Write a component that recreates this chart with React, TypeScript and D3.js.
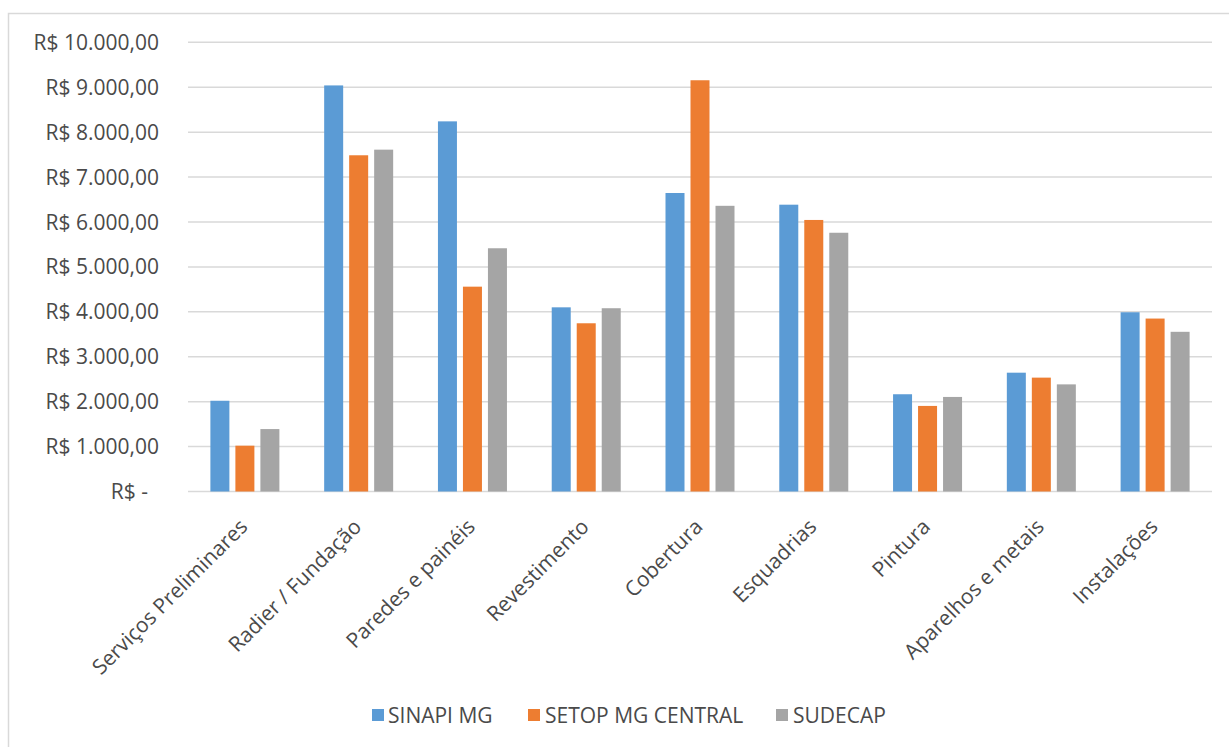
import React from "react";
import * as d3 from "d3";

const categories = [
  "Serviços Preliminares",
  "Radier / Fundação",
  "Paredes e painéis",
  "Revestimento",
  "Cobertura",
  "Esquadrias",
  "Pintura",
  "Aparelhos e metais",
  "Instalações",
];
const seriesNames = ["SINAPI MG", "SETOP MG CENTRAL", "SUDECAP"];
const sinapi = [2020, 9040, 8240, 4100, 6645, 6385, 2165, 2645, 3990];
const setop = [1020, 7485, 4560, 3745, 9155, 6045, 1905, 2535, 3850];
const sudecap = [1390, 7610, 5415, 4080, 6360, 5760, 2105, 2385, 3555];
const yTicks = [0, 1000, 2000, 3000, 4000, 5000, 6000, 7000, 8000, 9000, 10000];

const colors = ["#5B9BD5", "#ED7D31", "#A5A5A5"];
const W = 1229;
const H = 747;
const FONT = "'Open Sans', sans-serif";
const TEXT = "#4a4a4a";

function fmt(v: number): string {
  if (v === 0) return "R$ -";
  const s = d3.format(",.2f")(v);
  return "R$ " + s.replace(/,/g, "#").replace(".", ",").replace(/#/g, ".");
}

export default function App() {
  const x = d3.scaleBand<string>().domain(categories).range([188, 1212]).padding(0);
  const y = d3.scaleLinear().domain([0, 10000]).range([491.5, 42.3]);
  const series = [sinapi, setop, sudecap];
  const barW = 19;
  const step = 25;

  const legendItems = [
    { name: seriesNames[0], sx: 372, tx: 388 },
    { name: seriesNames[1], sx: 528, tx: 545 },
    { name: seriesNames[2], sx: 776, tx: 793 },
  ];

  return (
    <svg
      width={W}
      height={H}
      style={{ position: "absolute", left: 0, top: 0, background: "#fff" }}
      fontFamily={FONT}
    >
      <rect x={0} y={0} width={W} height={H} fill="#fff" />
      <rect x={8.5} y={13.5} width={W + 20} height={H + 20} fill="none" stroke="#D9D9D9" strokeWidth={1.5} />
      {yTicks.map((t) => (
        <g key={t}>
          <line x1={188} x2={1212} y1={y(t)} y2={y(t)} stroke="#D9D9D9" strokeWidth={1.5} />
          <text
            x={t === 0 ? 148 : 159}
            y={y(t)}
            dy="0.36em"
            textAnchor="end"
            fontSize={21}
            fill={TEXT}
          >
            {fmt(t)}
          </text>
        </g>
      ))}
      {series.map((vals, si) =>
        categories.map((c, ci) => {
          const cx = (x(c) as number) + x.bandwidth() / 2;
          const bx = cx + (si - 1) * step - barW / 2;
          return (
            <rect
              key={si + "-" + ci}
              x={bx}
              y={y(vals[ci])}
              width={barW}
              height={y(0) - y(vals[ci])}
              fill={colors[si]}
            />
          );
        })
      )}
      {categories.map((c) => {
        const cx = (x(c) as number) + x.bandwidth() / 2;
        return (
          <text
            key={c}
            transform={`translate(${cx + 4},${528}) rotate(-45)`}
            textAnchor="end"
            fontSize={21}
            fill={TEXT}
          >
            {c}
          </text>
        );
      })}
      {legendItems.map((l, i) => (
        <g key={l.name}>
          <rect x={l.sx} y={709} width={12} height={12} fill={colors[i]} />
          <text x={l.tx} y={715} dy="0.36em" fontSize={21} fill={TEXT}>
            {l.name}
          </text>
        </g>
      ))}
    </svg>
  );
}
